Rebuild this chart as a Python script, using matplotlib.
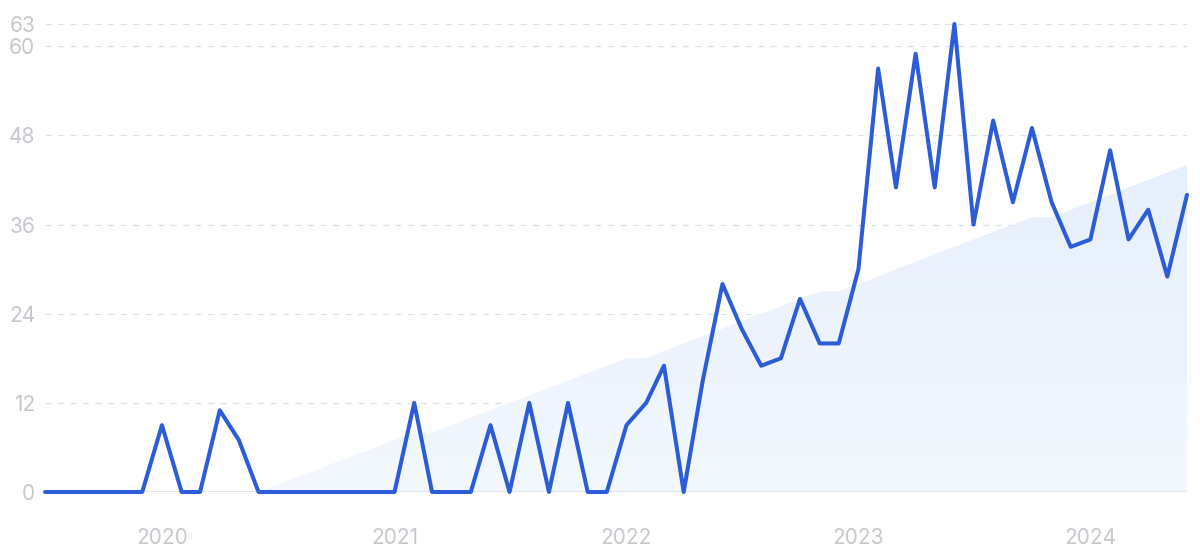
#!/usr/bin/env python3

"""Monthly search interest with trend area, Jul 2019 - Jun 2024."""

import matplotlib
matplotlib.use("Agg")
import matplotlib.dates as mdates
import matplotlib.pyplot as plt
import numpy as np
import pandas as pd
from matplotlib.patches import Polygon

# monthly values, Jul 2019 .. Jun 2024
start_month = "2019-07-01"
values = [
    0, 0, 0, 0, 0, 0,                      # 2019 H2
    9, 0, 0, 11, 7, 0, 0, 0, 0, 0, 0, 0,   # 2020
    0, 12, 0, 0, 0, 9, 0, 12, 0, 12, 0, 0,  # 2021
    9, 12, 17, 0, 15, 28, 22, 17, 18, 26, 20, 20,  # 2022
    30, 57, 41, 59, 41, 63, 36, 50, 39, 49, 39, 33,  # 2023
    34, 46, 34, 38, 29, 40,                # 2024 H1
]

# trend area, starts Jun 2020
trend_start = "2020-06-01"
trend = [
    0, 1, 2, 3, 4, 5, 6, 7, 8, 8,
    9, 10, 11, 12, 13, 14, 15, 16, 17, 18, 18,
    19, 20, 21, 22, 23, 24, 25, 26, 27, 27,
    28, 29, 30, 31, 32, 33, 34, 35, 36, 37, 37,
    38, 39, 40, 41, 42, 43, 44,
]

y_ticks = [0, 12, 24, 36, 48, 60, 63]
year_ticks = ["2020", "2021", "2022", "2023", "2024"]

LINE = "#2c5dd7"
GRID = "#d9e2ef"
TEXT = "#c6c8cd"

plt.rcParams["font.family"] = ["Inter", "DejaVu Sans"]

dates = pd.date_range(start_month, periods=len(values), freq="MS")
tdates = pd.date_range(trend_start, periods=len(trend), freq="MS")
x = mdates.date2num(dates)
tx = mdates.date2num(tdates)

fig = plt.figure(figsize=(12, 5.55), dpi=100)
ax = fig.add_axes([45 / 1200, 1 - 492 / 555, (1187 - 45) / 1200, (492 - 24) / 555])

# trend area with soft vertical gradient
poly_xy = np.column_stack([np.r_[tx, tx[-1], tx[0]], np.r_[trend, 0, 0]])
patch = Polygon(poly_xy, closed=True, facecolor="none", edgecolor="none")
ax.add_patch(patch)
grad = np.linspace(0, 1, 256).reshape(-1, 1)
cmap = matplotlib.colors.LinearSegmentedColormap.from_list(
    "fade", ["#f3f8fe", "#e6effc"]
)
img = ax.imshow(
    grad,
    cmap=cmap,
    aspect="auto",
    origin="lower",
    extent=[tx[0], tx[-1], 0, max(trend)],
    zorder=1,
)
img.set_clip_path(patch)
ax.set_xlim(x[0], x[-1])
ax.set_ylim(0, 63)

for yv in y_ticks[1:]:
    ax.axhline(yv, color=GRID, linestyle=(0, (5, 5)), linewidth=0.9, zorder=0)
ax.axhline(0, color="#dbe3f0", linewidth=1.2, zorder=2)

ax.plot(
    x, values, color=LINE, linewidth=2.9, solid_joinstyle="round",
    solid_capstyle="round", zorder=3, clip_on=False,
)

for s in ax.spines.values():
    s.set_visible(False)

ax.set_yticks(y_ticks)
ax.set_yticklabels([str(v) for v in y_ticks])
ax.set_xticks(mdates.date2num(pd.to_datetime([f"{y}-01-01" for y in year_ticks])))
ax.set_xticklabels(year_ticks)
ax.tick_params(axis="both", length=0, labelsize=15, colors=TEXT)
ax.tick_params(axis="y", pad=7)
ax.tick_params(axis="x", pad=26)

fig.savefig("out.png", dpi=100)
